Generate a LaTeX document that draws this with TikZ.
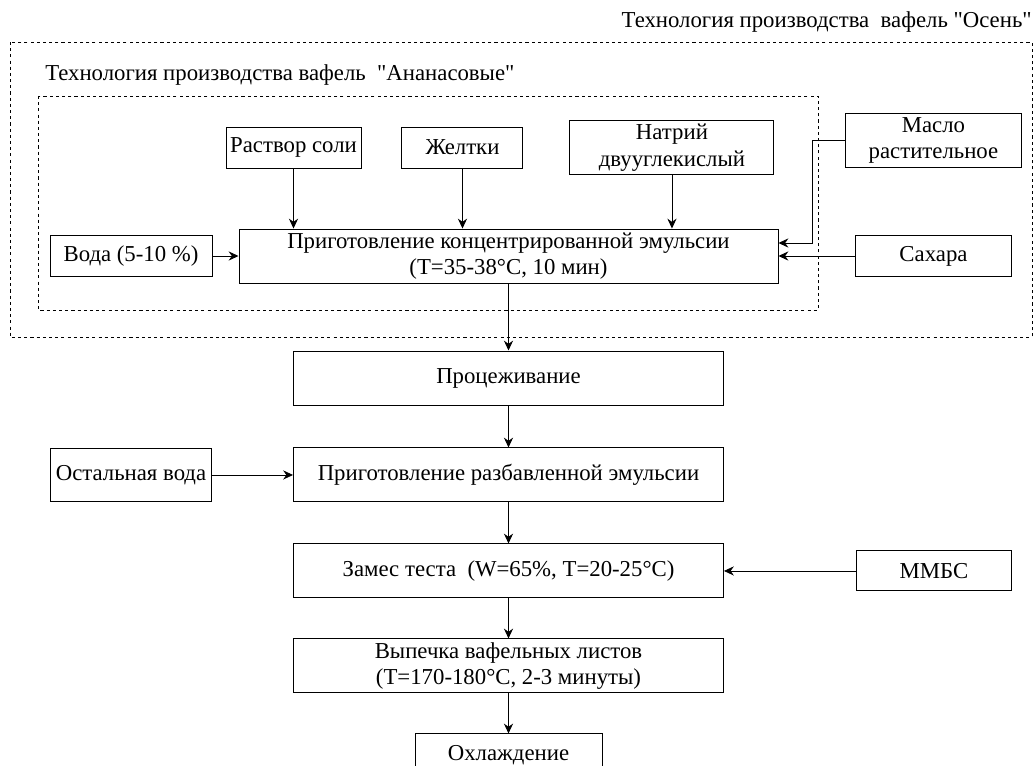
\documentclass[tikz,border=0pt]{standalone}
\usepackage{fontspec}
\setmainfont{Liberation Serif}[Ligatures=TeXOff]
\usetikzlibrary{arrows.meta,positioning,calc}

\begin{document}
\begin{tikzpicture}[
	font=\fontsize{16.2}{19}\selectfont,
	box/.style={draw, line width=0.7pt, align=center, inner xsep=2pt, inner ysep=1pt},
	stage/.style={box, minimum width=10.75cm, minimum height=1.35cm},
	small/.style={box, minimum height=1.025cm},
	frame/.style={line width=0.6pt, dash pattern=on 2.2pt off 2.2pt},
	>={Stealth[length=7pt,width=6.5pt]}]
	\useasboundingbox (-12.7125,6.4) rectangle (13.1875,-12.725);
	\clip (-12.7125,6.4) rectangle (13.1875,-12.725);
	\node[box, minimum width=13.475cm, minimum height=1.35cm] (emul) {Приготовление концентрированной эмульсии\\(T=35-38°C, 10 мин)};
	\node[small, minimum width=4.05cm] (water) [left=0.65cm of emul] {Вода (5-10 \%)};
	\node[small, minimum width=3.875cm] (sugar) [right=1.925cm of emul] {Сахара};
	\node[box, minimum width=4.4cm, minimum height=1.35cm] (oil) [above=1.675cm of sugar] {Масло\\растительное};
	\node[small, minimum width=3.375cm] (salt) [above right=1.5cm and -0.325cm of emul.north west] {Раствор соли};
	\node[small, minimum width=3.025cm] (yolk) [right=1.0cm of salt] {Желтки};
	\node[box, minimum width=5.1cm, minimum height=1.35cm] (soda) [right=1.15cm of yolk] {Натрий\\двууглекислый};
	\node[stage] (strain) [below=1.675cm of emul] {Процеживание};
	\node[stage] (dilute) [below=1.05cm of strain] {Приготовление разбавленной эмульсии};
	\node[box, minimum width=4.025cm, minimum height=1.325cm] (rest) [left=2.025cm of dilute] {Остальная вода};
	\node[stage] (knead) [below=1.025cm of dilute] {Замес теста\ \ (W=65\%, T=20-25°C)};
	\node[box, minimum width=3.875cm, minimum height=1.0cm] (mmbs) [right=3.3cm of knead] {ММБС};
	\node[stage] (bake) [below=1.0cm of knead] {Выпечка вафельных листов\\(T=170-180°C, 2-3 минуты)};
	\node[box, minimum width=4.675cm, minimum height=1.05cm] (cool) [below=1.0cm of bake] {Охлаждение};
	% dashed frames
	\draw[frame] (-11.7625,4.0) rectangle (7.7375,-1.35);
	\draw[frame] (-12.4625,5.35) rectangle (13.0875,-2.025);
	\node[anchor=west, inner sep=0pt] (titleA) at (-11.5875,4.525) {Технология производства вафель\ \ "Ананасовые"};
	\node[anchor=east, inner sep=0pt] (titleO) at (13.0875,5.85) {Технология производства\ \ вафель "Осень"};
	\begin{scope}[line width=0.6pt]
	\draw[->] (salt) -- (salt |- emul.north);
	\draw[->] (yolk) -- (yolk |- emul.north);
	\draw[->] (soda) -- (soda |- emul.north);
	\draw[->] (water) -- (emul);
	\draw[->] (sugar) -- (emul);
	\draw[->] (oil.west) -- ++(-0.825,0) |- ([yshift=0.325cm]emul.east);
	\draw[->] (emul) -- (strain);
	\draw[->] (strain) -- (dilute);
	\draw[->] (rest) -- (dilute);
	\draw[->] (dilute) -- (knead);
	\draw[->] (mmbs) -- (knead);
	\draw[->] (knead) -- (bake);
	\draw[->] (bake) -- (cool);
	\end{scope}
\end{tikzpicture}
\end{document}
